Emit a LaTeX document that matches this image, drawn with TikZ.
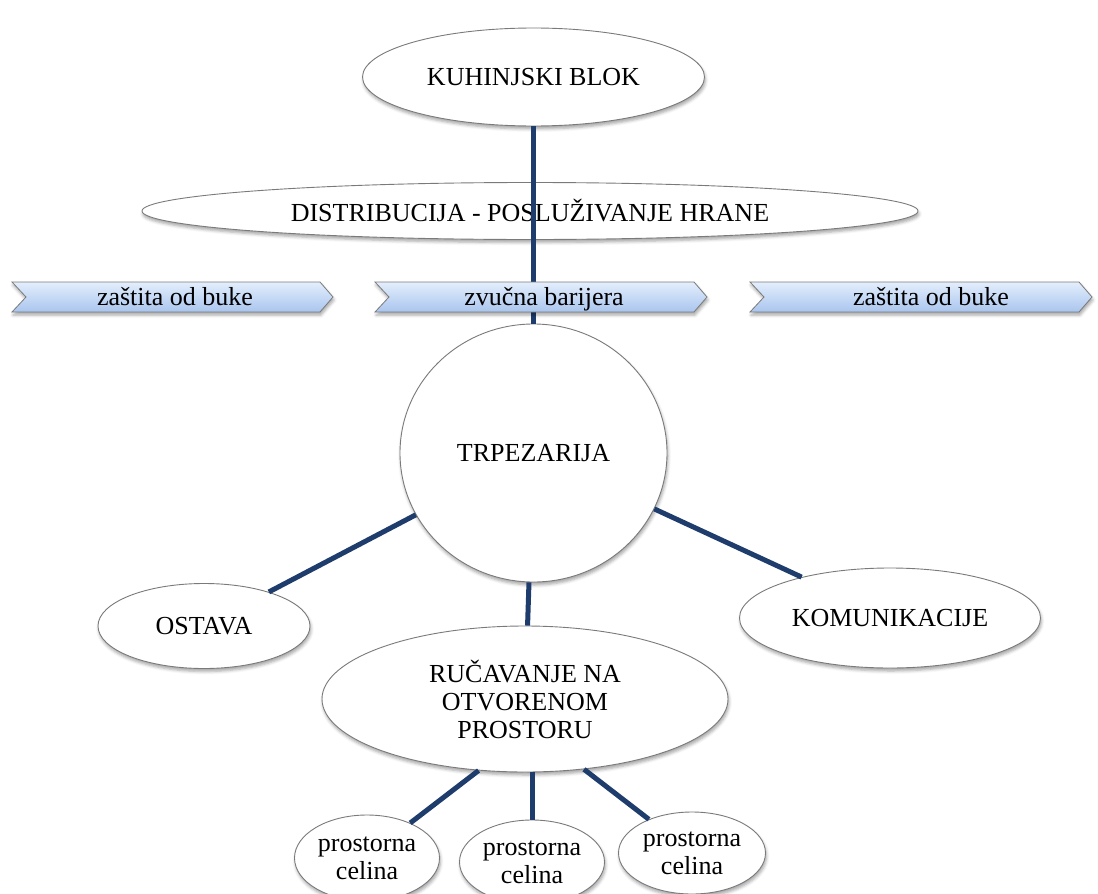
\documentclass[tikz,border=0pt]{standalone}
\usepackage{fontspec}
\setmainfont{Liberation Serif}
\usetikzlibrary{shapes.geometric,shadows.blur}
\definecolor{linkblue}{HTML}{1E3C6C}
\definecolor{rimgray}{HTML}{7A7A7A}
\definecolor{bandtop}{HTML}{E4EEFC}
\definecolor{bandbot}{HTML}{A9C5EE}
\tikzset{
  softshadow/.style={blur shadow={shadow xshift=1pt, shadow yshift=-3pt,
      shadow blur radius=3pt, shadow opacity=35}},
  bubble/.style={ellipse, draw=rimgray, line width=0.9pt, fill=white,
      inner sep=0pt, align=center, font=\fontsize{26}{28}\selectfont, softshadow},
  link/.style={draw=linkblue, line width=5pt},
  band/.style={draw=rimgray, line width=0.8pt, top color=bandtop,
      bottom color=bandbot, softshadow},
  bandtext/.style={font=\fontsize{26}{28}\selectfont, inner sep=0pt, anchor=base}
}
% chevron band: left x, right x
\newcommand\bandshape[2]{%
  \path[band] (#1,282) -- ({#2-13},282) -- (#2,297) -- ({#2-13},312)
    -- (#1,312) -- ({#1+14},297) -- cycle;}
\begin{document}
\begin{tikzpicture}[x=1pt,y=-1pt]
\useasboundingbox (0,0) rectangle (1098,894);

% serving layer and kitchen
\node[bubble, minimum width=776, minimum height=57] (dist) at (530,211)
  {DISTRIBUCIJA - POSLUŽIVANJE HRANE};
\node[bubble, minimum width=342, minimum height=98] (kuh) at (533.5,77)
  {KUHINJSKI BLOK};
\node[bubble, minimum width=267, minimum height=258] (trp) at (533.5,453)
  {TRPEZARIJA};
\draw[link] (kuh.south) -- (trp.north);

% noise barrier bands
\bandshape{12}{333}
\bandshape{375}{707}
\bandshape{750}{1092}
\node[bandtext] (b1) at (175,305) {zaštita od buke};
\node[bandtext] (b2) at (544,305) {zvučna barijera};
\node[bandtext] (b3) at (931,305) {zaštita od buke};

% rooms around the dining hall
\node[bubble, minimum width=212, minimum height=85] (ost) at (204,626) {OSTAVA};
\node[bubble, minimum width=301, minimum height=100] (kom) at (890,618) {KOMUNIKACIJE};
\node[bubble, minimum width=406, minimum height=146] (ruc) at (525,699)
  {RUČAVANJE NA\\OTVORENOM\\PROSTORU};
\draw[link] (trp) -- (ost);
\draw[link] (trp) -- (kom);
\draw[link] (trp.268) -- (ruc.88);

% open-air sections
\begin{scope}[every node/.append style={font=\fontsize{26}{27}\selectfont}]
\node[bubble, minimum width=145, minimum height=86] (p1) at (367,858) {prostorna\\celina};
\node[bubble, minimum width=145, minimum height=84] (p2) at (532,862) {prostorna\\celina};
\node[bubble, minimum width=147, minimum height=82] (p3) at (692,853) {prostorna\\celina};
\end{scope}
\draw[link] (ruc.237) -- (p1.39);
\draw[link] (p2.north) -- (p2.north |- ruc.south);
\draw[link] (ruc.310) -- (p3.142);
\end{tikzpicture}
\end{document}
